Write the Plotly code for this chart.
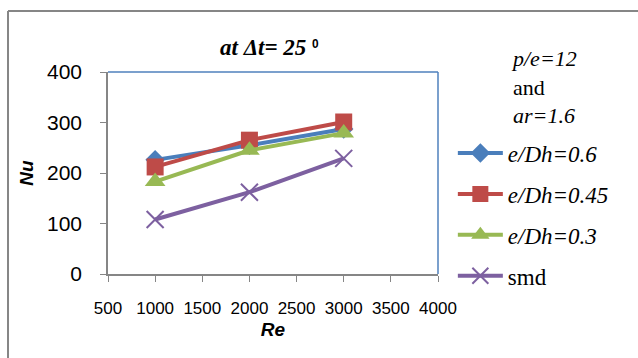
import plotly.graph_objects as go

re_vals = [1000, 2000, 3000]
nu_06 = [226, 255, 287]
nu_045 = [212, 265, 301]
nu_03 = [183, 245, 279]
nu_smd = [108, 162, 229]

names = ["<i>e/Dh=0.6</i>", "<i>e/Dh=0.45</i>", "<i>e/Dh=0.3</i>", "smd"]
colors = ["#4A7EBB", "#BE4B48", "#98B954", "#7D60A0"]
symbols = ["diamond", "square", "triangle-up", "x-thin-open"]
sizes = [15, 17, 18, 17]
series = [nu_06, nu_045, nu_03, nu_smd]

x_ticks = [500, 1000, 1500, 2000, 2500, 3000, 3500, 4000]
y_ticks = [0, 100, 200, 300, 400]

fig = go.Figure()
for i, (nm, c, s, sz, ys) in enumerate(zip(names, colors, symbols, sizes, series)):
    marker = dict(symbol=s, size=sz, color=c)
    if s == "x-thin-open":
        marker["line"] = dict(color=c, width=2)
    fig.add_trace(go.Scatter(
        x=re_vals, y=ys, name=nm, mode="lines+markers",
        line=dict(color=c, width=4), marker=marker,
        legendgroup=f"g{i}",
    ))

gray = "#868686"
blue = "#4F81BD"
fig.update_layout(
    width=638, height=358,
    margin=dict(l=108, r=200, t=72, b=84),
    paper_bgcolor="white", plot_bgcolor="white",
    showlegend=True,
    legend=dict(
        x=1.045, y=0.705, xanchor="left", yanchor="top",
        font=dict(family="Liberation Serif", size=23, color="black"),
        tracegroupgap=8, bgcolor="rgba(0,0,0,0)",
        itemwidth=45,
    ),
    xaxis=dict(
        range=[500, 4000], tickvals=x_ticks, showgrid=False, zeroline=False,
        showline=True, linecolor=gray, linewidth=1.5,
        ticks="outside", ticklen=6, tickcolor=gray, ticklabelstandoff=12,
        tickfont=dict(family="Liberation Sans", size=17, color="black"),
        title=dict(text="<b><i>Re</i></b>", standoff=6,
                   font=dict(family="Liberation Sans", size=19, color="black")),
    ),
    yaxis=dict(
        range=[0, 400], tickvals=y_ticks, showgrid=False, zeroline=False,
        showline=True, linecolor=gray, linewidth=1.5,
        ticks="outside", ticklen=6, tickcolor=gray, ticklabelstandoff=14,
        tickfont=dict(family="Liberation Sans", size=21, color="black"),
        title=dict(text="<b><i>Nu</i></b>", standoff=8,
                   font=dict(family="Liberation Sans", size=19, color="black")),
    ),
    shapes=[
        dict(type="line", xref="paper", yref="paper", x0=0, x1=1, y0=1, y1=1,
             line=dict(color=blue, width=1.5)),
        dict(type="line", xref="paper", yref="paper", x0=1, x1=1, y0=0, y1=1,
             line=dict(color=blue, width=1.5)),
        dict(type="line", xref="paper", yref="paper", x0=-0.303, x1=1.7, y0=1.302, y1=1.302,
             line=dict(color=gray, width=2)),
        dict(type="line", xref="paper", yref="paper", x0=-0.303, x1=-0.303, y0=1.302, y1=-0.5,
             line=dict(color=gray, width=2)),
    ],
    annotations=[
        dict(xref="paper", yref="paper", x=0.49, y=1.12, xanchor="center", yanchor="middle",
             showarrow=False,
             text="<b><i>at Δt= 25</i></b> <span style='font-family:Liberation Sans;font-size:17px'><b><sup>0</sup></b></span>",
             font=dict(family="Liberation Serif", size=23, color="black")),
        dict(xref="paper", yref="paper", x=1.215, y=1.138, xanchor="left", yanchor="top",
             showarrow=False, align="left",
             text="<i>p/e=12</i><br>and<br><i>ar=1.6</i>",
             font=dict(family="Liberation Serif", size=22, color="black")),
    ],
)

fig.write_html("out.html")
